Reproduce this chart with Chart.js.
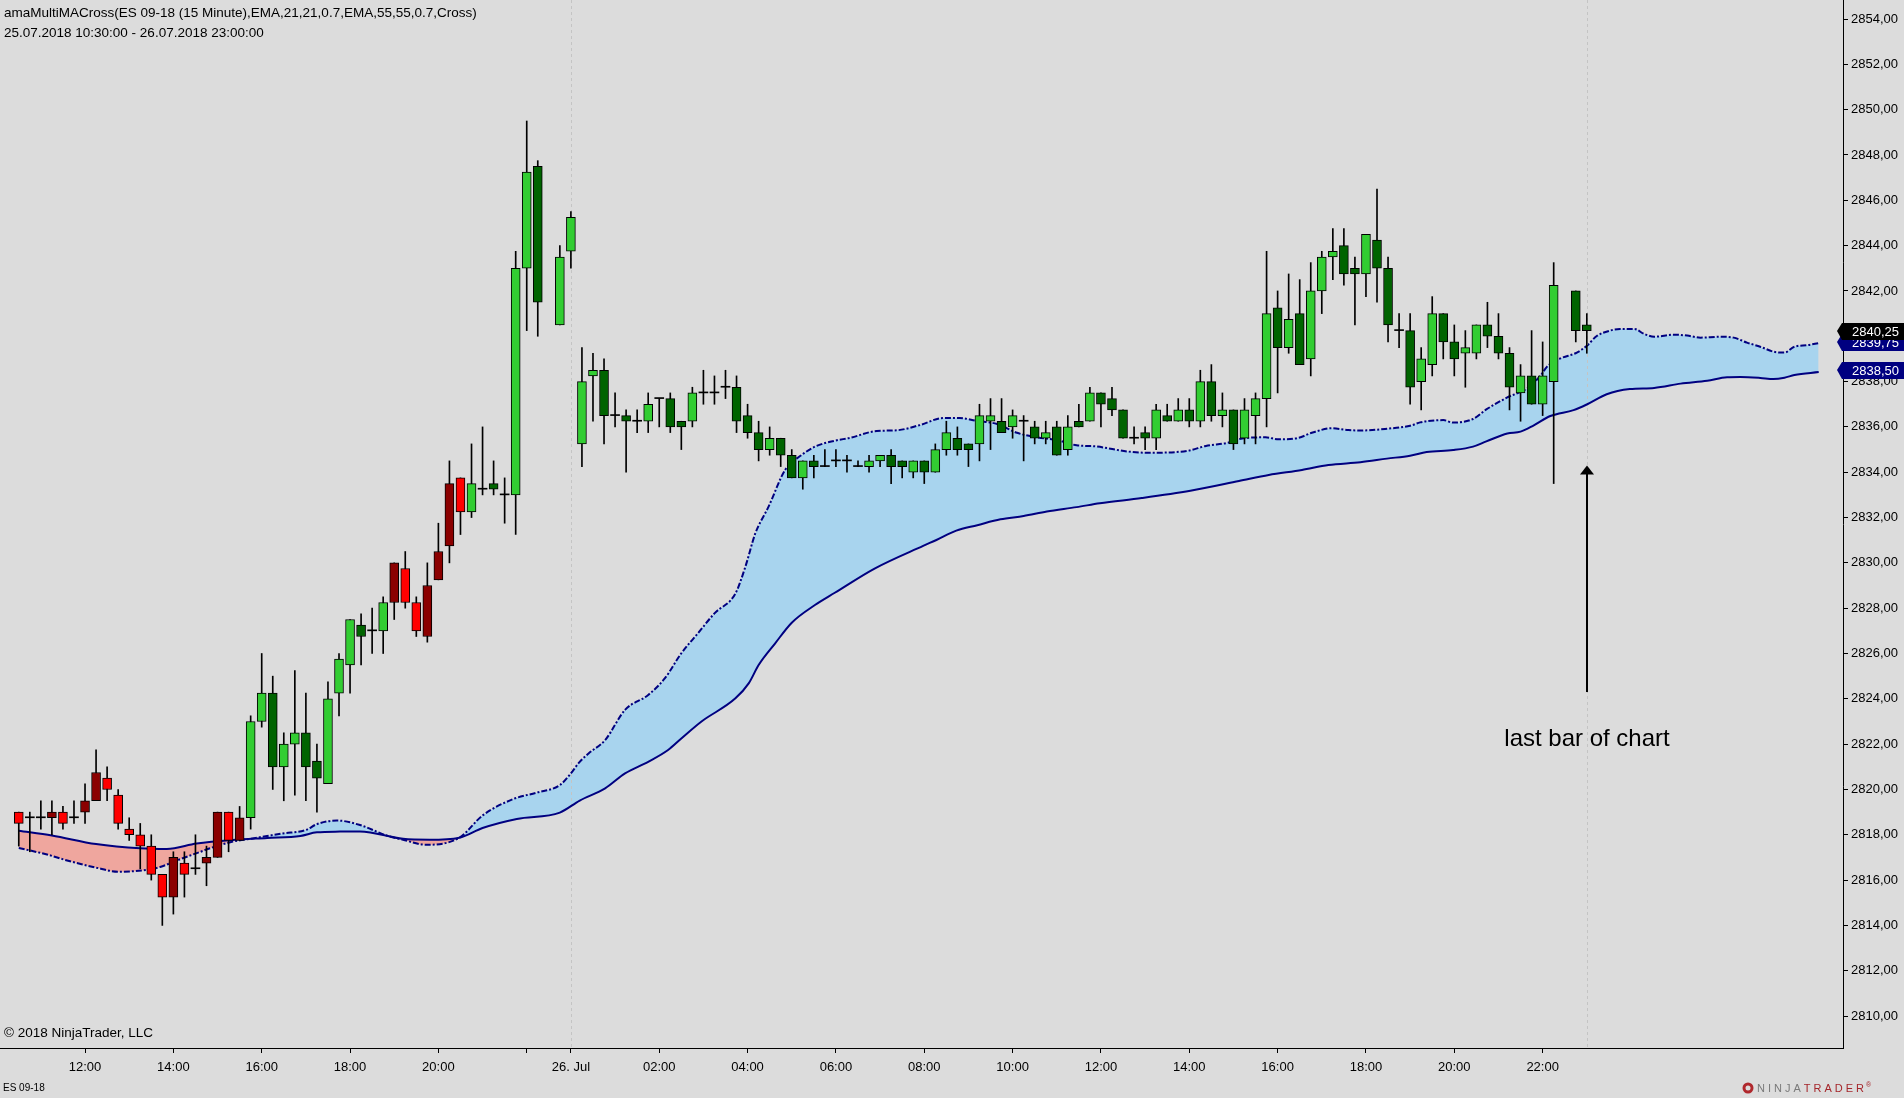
<!DOCTYPE html>
<html>
<head>
<meta charset="utf-8">
<title>amaMultiMACross ES 09-18</title>
<script src="https://cdn.jsdelivr.net/npm/chart.js@4.4.1/dist/chart.umd.min.js"></script>
<style>
  html, body { margin: 0; padding: 0; background: #dcdcdc; }
  #wrap { width: 1904px; height: 1098px; }
</style>
</head>
<body>
<div id="wrap"><canvas id="chart" width="1904" height="1098"></canvas></div>
<script>
// 15 minute bars, 25.07.2018 10:30 -> 26.07.2018 23:00 (index = bar slot, null = no bar)
const opens = [
  2819.00, 2818.75, 2818.75, 2818.75, 2819.00, 2818.75, 2819.00, 2819.50, 2820.50, 2819.75,
  2818.25, 2818.00, 2817.50, 2816.25, 2815.25, 2816.75, 2816.50, 2816.75, 2817.00, 2819.00,
  2817.75, 2818.75, 2823.00, 2824.25, 2821.00, 2822.00, 2822.50, 2821.25, 2820.25, 2824.25,
  2825.50, 2827.25, 2827.00, 2827.00, 2828.25, 2829.75, 2828.25, 2826.75, 2829.25, 2830.75,
  2833.75, 2832.25, 2833.25, 2833.50, 2833.00, 2833.00, 2843.00, 2847.50, null,    2840.50,
  2843.75, 2835.25, 2838.25, 2838.50, 2836.50, 2836.50, 2836.25, 2836.25, 2837.25, 2837.25,
  2836.25, 2836.25, 2837.50, 2837.50, 2837.75, 2837.75, 2836.50, 2835.75, 2835.00, 2835.50,
  2834.75, 2833.75, 2834.50, 2834.25, 2834.50, 2834.50, 2834.25, 2834.25, 2834.50, 2834.75,
  2834.50, 2834.00, 2834.50, 2834.00, 2835.00, 2835.50, 2835.25, 2835.25, 2836.25, 2836.25,
  2836.00, 2836.25, 2836.00, 2835.50, 2836.00, 2835.00, 2836.25, 2836.25, 2837.50, 2837.25,
  2836.75, 2835.50, 2835.75, 2835.50, 2836.50, 2836.25, 2836.75, 2836.25, 2838.00, 2836.50,
  2836.75, 2835.50, 2836.50, 2837.25, 2841.25, 2839.50, 2841.00, 2839.00, 2842.00, 2843.50,
  2844.00, 2843.00, 2842.75, 2844.25, 2843.00, 2840.25, 2840.25, 2838.00, 2838.75, 2841.00,
  2839.75, 2839.25, 2839.25, 2840.50, 2840.00, 2839.25, 2837.50, 2838.25, 2837.00, 2838.00,
  null,    2842.00, 2840.50
];
const highs = [
  2819.00, 2819.00, 2819.50, 2819.50, 2819.25, 2819.50, 2820.25, 2821.75, 2821.00, 2820.00,
  2818.75, 2818.50, 2818.00, 2816.25, 2817.25, 2817.25, 2818.00, 2817.50, 2819.00, 2819.00,
  2819.25, 2823.25, 2826.00, 2825.00, 2822.50, 2825.25, 2824.25, 2822.00, 2824.75, 2826.00,
  2827.50, 2827.75, 2828.00, 2828.50, 2830.00, 2830.50, 2828.50, 2830.00, 2831.75, 2834.50,
  2833.75, 2835.25, 2836.00, 2834.50, 2833.75, 2843.75, 2849.50, 2847.75, null,    2844.00,
  2845.50, 2839.50, 2839.25, 2839.00, 2837.50, 2836.75, 2836.75, 2837.50, 2837.25, 2837.50,
  2836.25, 2837.75, 2838.50, 2838.25, 2838.50, 2838.25, 2837.00, 2836.25, 2836.00, 2835.50,
  2835.00, 2834.50, 2834.75, 2835.00, 2835.00, 2834.75, 2834.50, 2834.75, 2834.75, 2835.00,
  2834.50, 2834.50, 2834.50, 2835.25, 2836.25, 2836.00, 2835.25, 2837.00, 2837.25, 2837.25,
  2836.75, 2836.50, 2836.25, 2836.25, 2836.25, 2836.50, 2837.00, 2837.75, 2837.50, 2837.75,
  2836.75, 2836.00, 2836.00, 2837.00, 2837.00, 2837.25, 2837.25, 2838.50, 2838.75, 2837.50,
  2836.75, 2837.25, 2837.50, 2843.75, 2842.00, 2842.75, 2842.50, 2843.25, 2843.75, 2844.75,
  2844.75, 2843.50, 2844.50, 2846.50, 2843.50, 2841.00, 2841.00, 2839.50, 2841.75, 2841.00,
  2840.50, 2840.25, 2840.50, 2841.50, 2841.00, 2839.50, 2838.75, 2840.25, 2839.75, 2843.25,
  null,    2842.00, 2841.00
];
const lows = [
  2817.50, 2817.25, 2818.25, 2818.00, 2818.25, 2818.50, 2818.50, 2819.50, 2819.50, 2818.25,
  2817.75, 2816.50, 2816.00, 2814.00, 2814.50, 2815.25, 2816.25, 2815.75, 2817.00, 2817.25,
  2817.75, 2818.25, 2822.75, 2820.00, 2819.50, 2819.75, 2819.50, 2819.00, 2820.25, 2823.25,
  2824.25, 2825.50, 2826.00, 2826.00, 2827.50, 2828.00, 2826.75, 2826.50, 2829.25, 2830.00,
  2831.25, 2832.00, 2833.00, 2833.00, 2831.75, 2831.25, 2840.25, 2840.00, null,    2840.50,
  2843.00, 2834.25, 2836.25, 2835.25, 2836.00, 2834.00, 2835.75, 2835.75, 2836.00, 2835.75,
  2835.00, 2836.00, 2837.00, 2837.00, 2837.25, 2835.75, 2835.50, 2834.50, 2834.75, 2834.25,
  2833.75, 2833.25, 2833.75, 2834.25, 2834.25, 2834.00, 2834.25, 2834.00, 2834.25, 2833.50,
  2833.75, 2833.75, 2833.50, 2834.00, 2834.75, 2834.75, 2834.25, 2834.50, 2835.00, 2835.75,
  2835.50, 2834.50, 2835.25, 2835.25, 2834.75, 2834.75, 2836.00, 2836.25, 2836.00, 2836.50,
  2835.50, 2835.25, 2835.00, 2835.00, 2836.25, 2836.25, 2836.00, 2836.00, 2836.25, 2836.00,
  2835.00, 2835.25, 2835.25, 2836.00, 2837.50, 2839.25, 2838.75, 2838.25, 2841.00, 2842.50,
  2842.25, 2840.50, 2841.75, 2841.50, 2839.75, 2839.50, 2837.00, 2836.75, 2838.25, 2839.00,
  2838.25, 2837.75, 2839.00, 2839.50, 2839.00, 2836.75, 2836.25, 2837.00, 2836.50, 2833.50,
  null,    2839.75, 2839.25
];
const closes = [
  2818.50, 2818.75, 2818.75, 2819.00, 2818.50, 2818.75, 2819.50, 2820.75, 2820.00, 2818.50,
  2818.00, 2817.50, 2816.25, 2815.25, 2817.00, 2816.25, 2816.50, 2817.00, 2819.00, 2817.75,
  2818.75, 2823.00, 2824.25, 2821.00, 2822.00, 2822.50, 2821.00, 2820.50, 2824.00, 2825.75,
  2827.50, 2826.75, 2827.00, 2828.25, 2830.00, 2828.25, 2827.00, 2829.00, 2830.50, 2833.50,
  2832.25, 2833.50, 2833.25, 2833.25, 2833.00, 2843.00, 2847.25, 2841.50, null,    2843.50,
  2845.25, 2838.00, 2838.50, 2836.50, 2836.50, 2836.25, 2836.25, 2837.00, 2837.25, 2836.00,
  2836.00, 2837.50, 2837.50, 2837.50, 2837.75, 2836.25, 2835.75, 2835.00, 2835.50, 2834.75,
  2833.75, 2834.50, 2834.25, 2834.25, 2834.50, 2834.50, 2834.25, 2834.50, 2834.75, 2834.25,
  2834.25, 2834.50, 2834.00, 2835.00, 2835.75, 2835.00, 2835.00, 2836.50, 2836.50, 2835.75,
  2836.50, 2836.25, 2835.50, 2835.75, 2834.75, 2836.00, 2836.00, 2837.50, 2837.00, 2836.75,
  2835.50, 2835.50, 2835.50, 2836.75, 2836.25, 2836.75, 2836.25, 2838.00, 2836.50, 2836.75,
  2835.25, 2836.75, 2837.25, 2841.00, 2839.50, 2840.75, 2838.75, 2842.00, 2843.50, 2843.75,
  2842.75, 2842.75, 2844.50, 2843.00, 2840.50, 2840.25, 2837.75, 2839.00, 2841.00, 2839.75,
  2839.00, 2839.50, 2840.50, 2840.00, 2839.25, 2837.75, 2838.25, 2837.00, 2838.25, 2842.25,
  null,    2840.25, 2840.25
];

// bars painted in bear colours (fast EMA below slow EMA)
const bearRanges = [[0, 20], [34, 40]];

// EMA 21 (dash-dot) and EMA 55 (solid) as [bar slot, price]
const emaFast = [
  [0, 2817.42], [2.7, 2817.11], [4.2, 2816.89], [7, 2816.55], [9, 2816.37], [11.6, 2816.45],
  [12.8, 2816.58], [14.6, 2816.92], [16.4, 2817.24], [17.6, 2817.45], [19.4, 2817.70],
  [21.2, 2817.84], [23.9, 2818.06], [26, 2818.21], [27, 2818.47], [28.8, 2818.63],
  [30.9, 2818.43], [33.3, 2817.97], [34.8, 2817.78], [36.9, 2817.56], [39.9, 2817.87],
  [42, 2818.85], [44.8, 2819.58], [46.9, 2819.86], [49, 2820.19], [49.9, 2820.65],
  [50.8, 2821.22], [51.6, 2821.59], [53.1, 2822.18], [54.9, 2823.51], [57, 2824.17],
  [58.5, 2824.90], [60, 2826.01], [61.5, 2826.89], [63, 2827.77], [64.9, 2828.65],
  [65.8, 2829.83], [66.7, 2831.30], [67.9, 2832.48], [69.4, 2834.10], [70.9, 2834.76],
  [72.1, 2835.13], [73.9, 2835.39], [75.3, 2835.52], [77.7, 2835.82], [79.5, 2835.85],
  [81.6, 2836.08], [83.7, 2836.39], [85.2, 2836.39], [86.8, 2836.26], [88.6, 2836.13],
  [90.4, 2835.74], [92.2, 2835.54], [94, 2835.42], [95.8, 2835.19], [97.5, 2835.14],
  [100.5, 2834.91], [102.3, 2834.86], [105.9, 2834.95], [107.5, 2835.16], [109.5, 2835.30],
  [110.8, 2835.49], [112.9, 2835.54], [114.1, 2835.45], [115.9, 2835.52], [117.1, 2835.74],
  [118.9, 2835.94], [120.4, 2835.86], [121.5, 2835.84], [123.9, 2835.92], [126, 2836.05],
  [126.9, 2836.20], [129, 2836.30], [129.9, 2836.19], [131.7, 2836.35], [132.9, 2836.77],
  [134.8, 2837.30], [136.6, 2837.70], [137.8, 2838.26], [138.4, 2838.66], [139.6, 2839.02],
  [141.1, 2839.28], [142, 2839.58], [142.9, 2840.01], [144.1, 2840.25], [145, 2840.32],
  [146.3, 2840.32], [147.2, 2840.10], [148.1, 2839.98], [149.9, 2840.07], [151.1, 2840.03],
  [152.3, 2839.94], [154.1, 2839.98], [155.3, 2839.94], [156.5, 2839.72], [157.7, 2839.54],
  [158.9, 2839.32], [159.9, 2839.28], [160.8, 2839.54], [162, 2839.61], [163, 2839.70]
];
const emaSlow = [
  [0, 2818.18], [3, 2817.97], [7, 2817.59], [11, 2817.40], [13.4, 2817.37], [16.1, 2817.61],
  [19.4, 2817.77], [22.5, 2817.86], [25.5, 2817.95], [27, 2818.11], [29.1, 2818.14],
  [30.9, 2818.15], [34.8, 2817.82], [37.2, 2817.78], [39.9, 2817.87], [42, 2818.30],
  [45.1, 2818.70], [49, 2818.98], [50.8, 2819.51], [53.1, 2820.05], [54.9, 2820.71],
  [57, 2821.22], [58.8, 2821.74], [60, 2822.25], [61.8, 2822.99], [64.9, 2824.02],
  [66.1, 2824.68], [67, 2825.49], [68.5, 2826.45], [70, 2827.36], [72.1, 2828.14],
  [73.9, 2828.68], [77.5, 2829.75], [81.9, 2830.75], [83.1, 2831.01], [84.9, 2831.42],
  [86.8, 2831.66], [88.9, 2831.92], [91, 2832.07], [93.1, 2832.27], [95.8, 2832.46],
  [97.9, 2832.63], [101.7, 2832.86], [106.1, 2833.18], [110.5, 2833.61], [113.2, 2833.88],
  [116.2, 2834.10], [118.6, 2834.32], [121.5, 2834.44], [123.9, 2834.60], [126, 2834.73],
  [127.5, 2834.89], [129.9, 2834.98], [131.7, 2835.13], [132.9, 2835.36], [134.8, 2835.71],
  [136, 2835.79], [137.2, 2836.07], [138.7, 2836.48], [140.8, 2836.74], [142, 2836.99],
  [143.8, 2837.44], [145.9, 2837.67], [148.1, 2837.72], [150.5, 2837.91], [152.9, 2838.04],
  [154.7, 2838.19], [155.9, 2838.20], [157.7, 2838.16], [158.9, 2838.11], [159.9, 2838.17],
  [160.8, 2838.29], [163, 2838.42]
];

// time axis ticks (bar slot -> label)
const xTickSlots = [6, 14, 22, 30, 38, 46, 50, 58, 66, 74, 82, 90, 98, 106, 114, 122, 130, 138];
const xTickLabels = ['12:00', '14:00', '16:00', '18:00', '20:00', '', '26. Jul', '02:00', '04:00',
  '06:00', '08:00', '10:00', '12:00', '14:00', '16:00', '18:00', '20:00', '22:00'];
const sessionBreaks = [50, 142];

// price markers on the right axis
const markerValues = [2838.50, 2839.75, 2840.25];
const markerColors = ['#000080', '#000080', '#000000'];

// "last bar of chart" note
const noteSlot = 142;
const noteArrowTop = 2834.30;
const noteArrowBottom = 2824.30;
const notePrice = 2822.20;

const FONT = '"Liberation Sans", Arial, sans-serif';

function isBear(i) {
  return bearRanges.some(r => i >= r[0] && i <= r[1]);
}
function isDoji(i) {
  return opens[i] === closes[i];
}
function bodyColor(i) {
  if (isDoji(i)) return '#000000';
  const up = closes[i] > opens[i];
  if (isBear(i)) return up ? '#8b0000' : '#ff0000';
  return up ? '#32cd32' : '#006400';
}

const wickData = [];
const bodyData = [];
opens.forEach((o, i) => {
  if (o === null) return;
  wickData.push({ x: i, y: [lows[i], highs[i]] });
  bodyData.push({ x: i, y: [opens[i], closes[i]] });
});

function fmt(v) {
  return v.toFixed(2).replace('.', ',');
}

// session lines go over the band fill but under lines and candles
const sessionLines = {
  id: 'sessionLines',
  afterDatasetDraw(chart, args) {
    if (args.index !== 3) return;
    const { ctx, chartArea, scales } = chart;
    ctx.save();
    ctx.strokeStyle = '#c4c4c4';
    ctx.lineWidth = 1;
    ctx.setLineDash([3, 3]);
    sessionBreaks.forEach(s => {
      const x = Math.round(scales.x.getPixelForValue(s)) + 0.5;
      ctx.beginPath();
      ctx.moveTo(x, chartArea.top);
      ctx.lineTo(x, chartArea.bottom);
      ctx.stroke();
    });
    ctx.restore();
  }
};

const overlay = {
  id: 'overlay',
  afterDraw(chart) {
    const { ctx, scales, chartArea } = chart;
    const x = scales.x, y = scales.y;
    ctx.save();
    ctx.textBaseline = 'middle';
    ctx.fillStyle = '#000';
    ctx.font = '13.5px ' + FONT;
    ctx.textAlign = 'left';
    ctx.fillText('amaMultiMACross(ES 09-18 (15 Minute),EMA,21,21,0.7,EMA,55,55,0.7,Cross)', 4, 13);
    ctx.fillText('25.07.2018 10:30:00 - 26.07.2018 23:00:00', 4, 33);
    ctx.fillText('\u00a9 2018 NinjaTrader, LLC', 4, 1033);
    ctx.font = '10px ' + FONT;
    ctx.fillText('ES 09-18', 3, 1088);

    // logo
    ctx.fillStyle = '#b0282d';
    ctx.beginPath();
    ctx.arc(1748, 1088, 5.5, 0, Math.PI * 2);
    ctx.fill();
    ctx.fillStyle = '#dcdcdc';
    ctx.beginPath();
    ctx.arc(1748, 1088, 2.5, 0, Math.PI * 2);
    ctx.fill();
    ctx.font = '11px ' + FONT;
    ctx.letterSpacing = '3px';
    ctx.fillStyle = '#7a7a7a';
    ctx.fillText('NINJA', 1757, 1089);
    const w = ctx.measureText('NINJA').width;
    ctx.fillStyle = '#a5262b';
    ctx.fillText('TRADER', 1757 + w, 1089);
    const w2 = ctx.measureText('TRADER').width;
    ctx.letterSpacing = '0px';
    ctx.font = '7px ' + FONT;
    ctx.fillText('\u00ae', 1757 + w + w2 - 1, 1085);

    // note arrow + text
    const ax = Math.round(x.getPixelForValue(noteSlot));
    const yTop = y.getPixelForValue(noteArrowTop);
    const yBot = y.getPixelForValue(noteArrowBottom);
    ctx.fillStyle = '#000';
    ctx.fillRect(ax - 1, yTop + 8, 2, yBot - yTop - 8);
    ctx.beginPath();
    ctx.moveTo(ax, yTop);
    ctx.lineTo(ax - 7, yTop + 9);
    ctx.lineTo(ax + 7, yTop + 9);
    ctx.closePath();
    ctx.fill();
    ctx.font = '24px ' + FONT;
    ctx.textAlign = 'center';
    ctx.fillText('last bar of chart', ax, y.getPixelForValue(notePrice));

    // price flags
    ctx.textAlign = 'left';
    ctx.font = '13px ' + FONT;
    const left = chartArea.right;
    markerValues.forEach((v, k) => {
      const py = Math.round(y.getPixelForValue(v));
      ctx.fillStyle = markerColors[k];
      ctx.beginPath();
      ctx.moveTo(left - 6, py);
      ctx.lineTo(left - 1, py - 8);
      ctx.lineTo(1904, py - 8);
      ctx.lineTo(1904, py + 9);
      ctx.lineTo(left - 1, py + 9);
      ctx.closePath();
      ctx.fill();
      ctx.fillStyle = '#ffffff';
      ctx.fillText(fmt(v), 1852, py + 1);
    });
    ctx.restore();
  }
};

Chart.defaults.font.family = FONT;
Chart.defaults.font.size = 13;
Chart.defaults.color = '#000';

new Chart(document.getElementById('chart'), {
  type: 'bar',
  data: {
    datasets: [
      {
        label: 'wick',
        data: wickData,
        backgroundColor: '#000',
        barThickness: 1,
        grouped: false,
        order: 1
      },
      {
        label: 'body',
        data: bodyData,
        backgroundColor: c => bodyColor(c.raw.x),
        borderColor: '#000',
        borderWidth: c => (isDoji(c.raw.x) ? 0 : 1),
        borderSkipped: false,
        barThickness: 9,
        minBarLength: 1,
        grouped: false,
        order: 0
      },
      {
        type: 'line',
        label: 'EMA 55',
        data: emaSlow.map(p => ({ x: p[0], y: p[1] })),
        borderColor: '#000080',
        borderWidth: 2,
        pointRadius: 0,
        cubicInterpolationMode: 'monotone',
        fill: false,
        order: 2
      },
      {
        type: 'line',
        label: 'EMA 21',
        data: emaFast.map(p => ({ x: p[0], y: p[1] })),
        borderColor: '#000080',
        borderWidth: 2,
        borderDash: [6, 2, 2, 2],
        pointRadius: 0,
        cubicInterpolationMode: 'monotone',
        fill: { target: 2, above: 'rgb(168,212,238)', below: 'rgb(239,166,158)' },
        order: 3
      }
    ]
  },
  options: {
    responsive: false,
    devicePixelRatio: 1,
    animation: false,
    events: [],
    layout: { padding: 0 },
    plugins: {
      legend: { display: false },
      title: { display: false },
      tooltip: { enabled: false }
    },
    scales: {
      x: {
        type: 'linear',
        min: -1.7,
        max: 165.2,
        offset: false,
        grid: { display: true, drawOnChartArea: false, drawTicks: true, tickLength: 5, tickColor: '#000', offset: false },
        border: { display: true, color: '#000', width: 1 },
        afterBuildTicks: s => { s.ticks = xTickSlots.map(v => ({ value: v })); },
        afterFit: s => { s.height = 50; s.paddingLeft = 0; s.paddingRight = 0; },
        ticks: {
          autoSkip: false,
          maxRotation: 0,
          padding: 7,
          color: '#000',
          font: { size: 13 },
          callback: (v, i) => xTickLabels[i]
        }
      },
      y: {
        type: 'linear',
        position: 'right',
        min: 2808.59,
        max: 2854.84,
        grid: { display: true, drawOnChartArea: false, drawTicks: true, tickLength: 5, tickColor: '#000' },
        border: { display: true, color: '#000', width: 1 },
        afterFit: s => { s.width = 61; s.paddingTop = 0; s.paddingBottom = 0; },
        ticks: {
          stepSize: 2,
          includeBounds: false,
          padding: 3,
          color: '#000',
          font: { size: 13 },
          callback: v => fmt(v)
        }
      }
    }
  },
  plugins: [sessionLines, overlay]
});
</script>
</body>
</html>
